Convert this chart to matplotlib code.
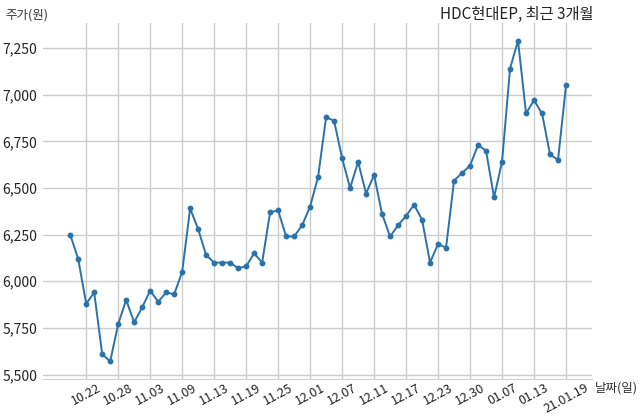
import matplotlib
matplotlib.use("Agg")
import matplotlib.pyplot as plt

plt.rcParams['font.family'] = ['Noto Sans CJK KR', 'DejaVu Sans']

dates = ["10.20", "10.21", "10.22", "10.23", "10.26", "10.27", "10.28", "10.29", "10.30",
         "11.02", "11.03", "11.04", "11.05", "11.06", "11.09", "11.10", "11.11", "11.12", "11.13",
         "11.16", "11.17", "11.18", "11.19", "11.20", "11.23", "11.24", "11.25", "11.26", "11.27", "11.30",
         "12.01", "12.02", "12.03", "12.04", "12.07", "12.08", "12.09", "12.10", "12.11",
         "12.14", "12.15", "12.16", "12.17", "12.18", "12.21", "12.22", "12.23", "12.24", "12.28", "12.29", "12.30",
         "01.04", "01.05", "01.06", "01.07", "01.08", "01.11", "01.12", "01.13", "01.14", "01.15", "01.18", "01.19"]

prices = [6250, 6120, 5880, 5940, 5610, 5570, 5770, 5900, 5780, 5860,
          5950, 5890, 5940, 5930, 6050, 6390, 6280, 6140, 6100, 6100,
          6100, 6070, 6080, 6150, 6100, 6370, 6380, 6240, 6240, 6300,
          6400, 6560, 6880, 6860, 6660, 6500, 6640, 6470, 6570, 6360,
          6240, 6300, 6350, 6410, 6330, 6100, 6200, 6180, 6540, 6580,
          6620, 6730, 6700, 6450, 6640, 7140, 7290, 6900, 6970, 6900,
          6680, 6650, 7050]

tick_dates = ["10.22", "10.28", "11.03", "11.09", "11.13", "11.19", "11.25", "12.01",
              "12.07", "12.11", "12.17", "12.23", "12.30", "01.07", "01.13", "01.19"]
tick_labels = ["10.22", "10.28", "11.03", "11.09", "11.13", "11.19", "11.25", "12.01",
               "12.07", "12.11", "12.17", "12.23", "12.30", "01.07", "01.13", "21.01.19"]

y_ticks = [5500, 5750, 6000, 6250, 6500, 6750, 7000, 7250]

fig = plt.figure(figsize=(6.4, 4.19), dpi=100)
ax = fig.add_axes([43/640, 1-379/419, (592-43)/640, (379-22.7)/419])

x = list(range(len(dates)))
ax.plot(x, prices, color='#2a72ab', linewidth=1.4, marker='o', markersize=3.2, zorder=3)

ax.set_xlim(-3.4, 65.25)
ax.set_ylim(5476, 7386)

ax.set_xticks([dates.index(d) for d in tick_dates])
ax.set_xticklabels(tick_labels, rotation=28, fontsize=9, color='#222222')
ax.set_yticks(y_ticks)
ax.set_yticklabels([f"{v:,}" for v in y_ticks], fontsize=10, color='#222222')
ax.tick_params(axis='both', length=0)
ax.tick_params(axis='x', pad=2)
ax.tick_params(axis='y', pad=4)

ax.grid(True, color='#cccccc', linewidth=1)
ax.set_axisbelow(True)
for s in ['top', 'right', 'left']:
    ax.spines[s].set_visible(False)
ax.spines['bottom'].set_color('#cccccc')

fig.text(5/640, 1-15/419, "주가(원)", fontsize=9, color='#333333', va='center', ha='left')
fig.text(593/640, 1-14/419, "HDC현대EP, 최근 3개월", fontsize=11, color='#222222', va='center', ha='right')
fig.text(595/640, 1-388/419, "날짜(일)", fontsize=9, color='#333333', va='center', ha='left')

fig.savefig("out.png", dpi=100)
